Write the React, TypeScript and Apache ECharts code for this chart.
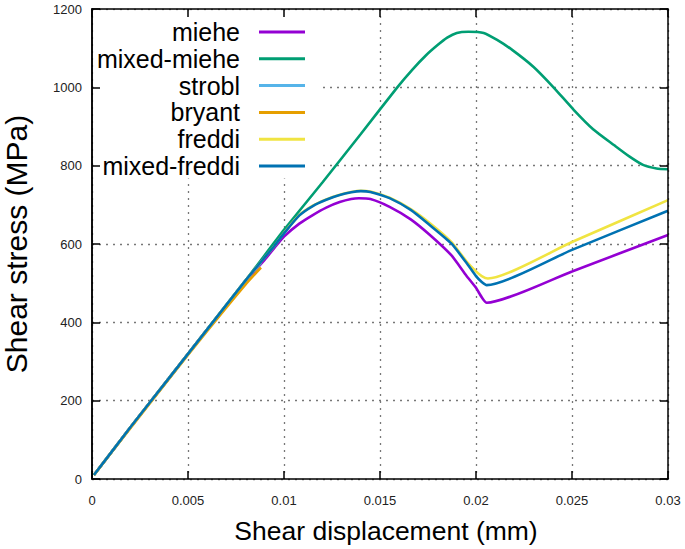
import React, { useEffect, useRef } from "react";
import * as echarts from "echarts";

const seriesNames = ["miehe", "mixed-miehe", "strobl", "bryant", "freddi", "mixed-freddi"];
const seriesColors = ["#9400d3", "#009e73", "#56b4e9", "#e69f00", "#f0e442", "#0072b2"];

const xTicks = [0, 0.005, 0.01, 0.015, 0.02, 0.025, 0.03];
const yTicks = [0, 200, 400, 600, 800, 1000, 1200];

const miehe = [
  [0.0001, 10], [0.002, 132], [0.004, 257], [0.006, 382], [0.008, 505], [0.009, 560],
  [0.0095, 590], [0.01, 619], [0.0108, 652], [0.0115, 674], [0.0122, 693], [0.0129, 707],
  [0.0135, 715], [0.0139, 717], [0.0145, 715], [0.0155, 695], [0.0166, 663], [0.0176, 623],
  [0.0187, 572], [0.0195, 519], [0.02, 488], [0.0203, 464], [0.02056, 450], [0.025, 530],
  [0.03, 623],
];
const mixedMiehe = [
  [0.0001, 10], [0.002, 132], [0.004, 257], [0.006, 382], [0.008, 507], [0.01, 636],
  [0.012, 757], [0.014, 881], [0.0159, 1000], [0.0167, 1046], [0.0174, 1082], [0.018, 1108],
  [0.0185, 1127], [0.019, 1139], [0.0196, 1142], [0.0204, 1139], [0.0211, 1121], [0.0219, 1095],
  [0.023, 1052], [0.024, 1002], [0.0251, 942], [0.0261, 893], [0.0272, 852], [0.028, 823],
  [0.0287, 802], [0.0294, 793], [0.03, 791],
];
const strobl = [
  [0.0001, 10], [0.002, 132], [0.004, 257], [0.006, 382], [0.008, 507], [0.0088, 552],
];
const bryant = [
  [0.0001, 10], [0.002, 130], [0.004, 255], [0.006, 378], [0.008, 497], [0.0088, 540],
];
const freddi = [
  [0.0001, 10], [0.002, 132], [0.004, 257], [0.006, 382], [0.008, 507], [0.009, 566],
  [0.0095, 595], [0.01, 628], [0.0108, 674], [0.0115, 698], [0.0122, 714], [0.0129, 726],
  [0.0135, 733], [0.014, 736], [0.0145, 734], [0.0155, 718], [0.0166, 689], [0.0176, 653],
  [0.0187, 606], [0.0195, 556], [0.02, 530], [0.0203, 518], [0.02062, 512], [0.025, 605],
  [0.03, 712],
];
const mixedFreddi = [
  [0.0001, 10], [0.002, 132], [0.004, 257], [0.006, 382], [0.008, 507], [0.009, 566],
  [0.0095, 595], [0.01, 627], [0.0108, 673], [0.0115, 697], [0.0122, 713], [0.0129, 725],
  [0.0135, 732], [0.014, 735], [0.0145, 733], [0.0155, 717], [0.0166, 687], [0.0176, 648],
  [0.0187, 602], [0.0195, 552], [0.02, 518], [0.0203, 503], [0.02056, 495], [0.025, 585],
  [0.03, 685],
];

const seriesData = [miehe, mixedMiehe, strobl, bryant, freddi, mixedFreddi];

const FONT = "Liberation Sans, Arial, sans-serif";

export default function App() {
  const ref = useRef<HTMLDivElement>(null);
  useEffect(() => {
    document.body.style.margin = "0";
    if (!ref.current) return;
    const chart = echarts.init(ref.current, null, { renderer: "svg" });
    const gridLine = { show: true, lineStyle: { color: "#777", width: 1.3, type: [2, 5] } };
    const axisLineStyle = { show: true, onZero: false, lineStyle: { color: "#000", width: 1.5 } };
    const fmt = (v: number) => String(+v.toFixed(3));

    const legendChildren: any[] = [
      { type: "rect", shape: { x: 93.5, y: 10.5, width: 225, height: 168 }, style: { fill: "#fff" }, z: 5 },
    ];
    const rowY = [32, 58.8, 85.6, 112.4, 139.2, 166];
    seriesNames.forEach((n, i) => {
      legendChildren.push({
        type: "text",
        x: 240,
        y: rowY[i],
        z: 6,
        style: { text: n, fill: "#000", font: `25px ${FONT}`, textAlign: "right", textVerticalAlign: "middle" },
      });
      legendChildren.push({
        type: "line",
        z: 6,
        shape: { x1: 259, y1: rowY[i], x2: 305, y2: rowY[i] },
        style: { stroke: seriesColors[i], lineWidth: 3 },
      });
    });

    const tickStyle = { show: true, inside: true, length: 8, lineStyle: { color: "#000", width: 1.5 } };

    chart.setOption({
      animation: false,
      backgroundColor: "#fff",
      grid: { left: 92, right: 17, top: 9, bottom: 70, containLabel: false, outerBoundsMode: "none" },
      xAxis: [
        {
          type: "value",
          position: "bottom",
          min: xTicks[0],
          max: xTicks[xTicks.length - 1],
          interval: 0.005,
          name: "Shear displacement (mm)",
          nameLocation: "middle",
          nameGap: 38,
          nameTextStyle: { fontSize: 26.5, fontFamily: FONT, color: "#000", padding: [0, 0, 0, 12] },
          axisLine: axisLineStyle,
          axisTick: tickStyle,
          axisLabel: { fontSize: 13, fontFamily: FONT, color: "#222", margin: 15, formatter: fmt },
          splitLine: gridLine,
        },
        {
          type: "value",
          position: "top",
          min: xTicks[0],
          max: xTicks[xTicks.length - 1],
          interval: 0.005,
          z: 10,
          axisLine: axisLineStyle,
          axisTick: tickStyle,
          axisLabel: { show: false },
          splitLine: { show: false },
        },
      ],
      yAxis: [
        {
          type: "value",
          position: "left",
          min: yTicks[0],
          max: yTicks[yTicks.length - 1],
          interval: 200,
          name: "Shear stress (MPa)",
          nameLocation: "middle",
          nameGap: 61,
          nameTextStyle: { fontSize: 30, fontFamily: FONT, color: "#000" },
          axisLine: axisLineStyle,
          axisTick: { show: false },
          axisLabel: { fontSize: 13, fontFamily: FONT, color: "#222", margin: 10, formatter: (v: number) => String(v) },
          splitLine: gridLine,
        },
        {
          type: "value",
          position: "left",
          min: yTicks[0],
          max: yTicks[yTicks.length - 1],
          interval: 200,
          z: 10,
          axisLine: axisLineStyle,
          axisTick: tickStyle,
          axisLabel: { show: false },
          splitLine: { show: false },
        },
        {
          type: "value",
          position: "right",
          min: yTicks[0],
          max: yTicks[yTicks.length - 1],
          interval: 200,
          z: 10,
          axisLine: axisLineStyle,
          axisTick: tickStyle,
          axisLabel: { show: false },
          splitLine: { show: false },
        },
      ],
      graphic: legendChildren,
      series: seriesNames.map((n, i) => ({
        name: n,
        type: "line",
        xAxisIndex: 0,
        yAxisIndex: 0,
        data: seriesData[i],
        showSymbol: false,
        symbol: "none",
        smooth: 0.2,
        lineStyle: { color: seriesColors[i], width: 2.6 },
        itemStyle: { color: seriesColors[i] },
        z: 3,
      })),
    });
    return () => chart.dispose();
  }, []);
  return <div ref={ref} style={{ width: 685, height: 549 }} />;
}
